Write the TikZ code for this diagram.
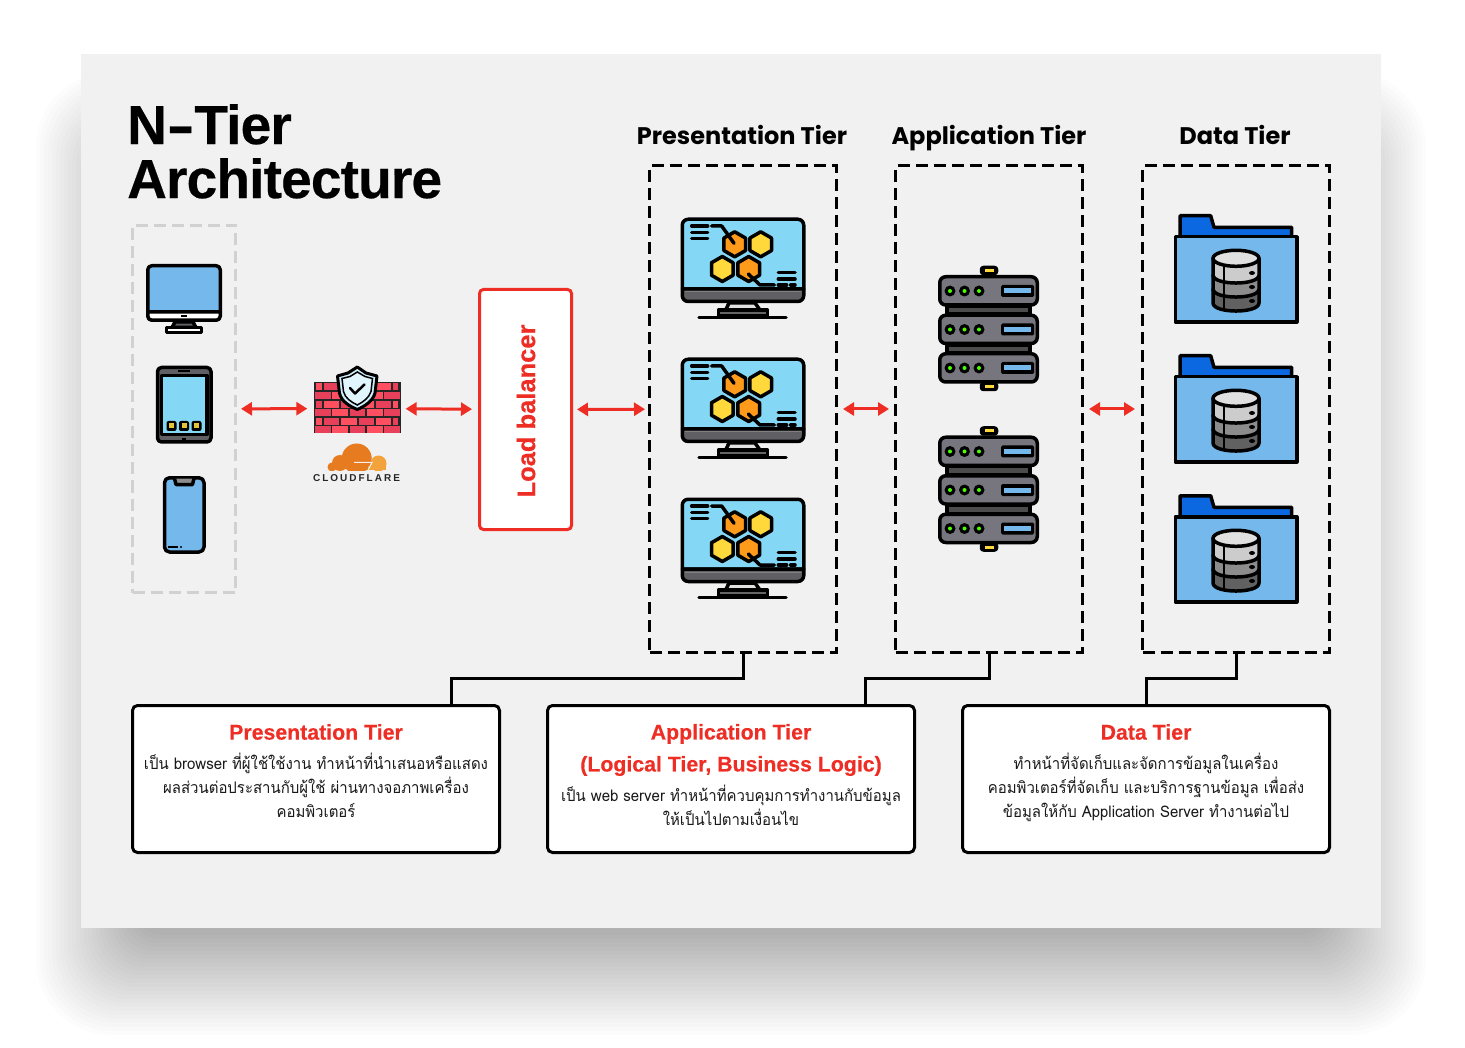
\documentclass[tikz,border=0pt]{standalone}
\usepackage{fontspec}
\setmainfont{Liberation Sans}
\newfontfamily\thaifont[Script=Thai,FakeStretch=0.935]{Loma}
\newfontfamily\headfont{Poppins}
\newfontfamily\logofont[LetterSpace=20]{Liberation Sans}
\newfontfamily\tightfont[LetterSpace=-1.5,FakeBold=0.4]{Liberation Sans Bold}
\newfontfamily\heavyfont[FakeBold=0.4]{Liberation Sans Bold}
\usetikzlibrary{arrows.meta, positioning}
\definecolor{panelgray}{HTML}{F1F1F1}
\definecolor{alertred}{HTML}{EE2D24}
\definecolor{deskblue}{HTML}{74B8EC}
\definecolor{skyblue}{HTML}{85D8F5}
\definecolor{folderblue}{HTML}{0B68E0}
\definecolor{chingray}{HTML}{5F5F64}
\definecolor{rackgray}{HTML}{77767E}
\definecolor{hex0}{HTML}{FF9A1A}
\definecolor{hex1}{HTML}{FFD93B}
\definecolor{brick0}{HTML}{FF4F60}
\definecolor{brick1}{HTML}{E8405A}
\definecolor{cloudorange}{HTML}{E67B1F}
\definecolor{cloudlight}{HTML}{F2A33C}
\tikzset{
  tierbox/.style={draw=black, line width=3pt, dash pattern=on 12pt off 6pt, minimum width=187pt, minimum height=486pt, inner sep=0pt},
  infobox/.style={draw=black, fill=white, line width=3pt, rounded corners=5pt, minimum width=367pt, minimum height=147pt, inner sep=0pt},
  infotitle/.style={text=alertred, font=\fontsize{21.3}{32}\selectfont\heavyfont, align=center, inner sep=0pt},
  infotext/.style={text=black!90, font=\fontsize{16}{24}\selectfont\thaifont, align=center, inner sep=0pt, anchor=north},
  tierhead/.style={font=\fontsize{24}{28}\selectfont\headfont\bfseries, inner sep=0pt, anchor=base},
  redarrow/.style={alertred, line width=3pt, {Triangle[length=11pt,width=13pt]}-{Triangle[length=11pt,width=13pt]}, shorten <=5pt, shorten >=5pt},
  joinline/.style={black, line width=3pt},
  iconline/.style={draw=black, line width=3.5pt, line join=round},
  % presentation tier monitor with hexagons
  hexmonitor/.pic={
    \draw[iconline, fill=skyblue] (1.25,71) [rounded corners=6pt] -- (1.25,1.25) -- (122.75,1.25) [sharp corners] -- (122.75,71) -- cycle;
    \draw[iconline, fill=chingray] (1.25,71) -- (122.75,71) [rounded corners=6pt] -- (122.75,83.5) -- (1.25,83.5) [sharp corners] -- cycle;
    \draw[gray, line width=1pt] (4,74) -- (120,74);
    \draw[iconline, fill=black!12] (48,85) -- (44.7,92) -- (79,92) -- (74,85) -- cycle;
    \draw[iconline, fill=black!60] (37.5,92) rectangle (86.5,98);
    \draw[iconline, line cap=round] (18,99.5) -- (105,99.5);
    \foreach \hx/\hy/\hc in {53.7/26.3/0, 79.7/26.3/1, 41.3/51/1, 67.7/51/0}
      \draw[iconline, fill=hex\hc] (\hx,\hy-12.5) -- (\hx+10.8,\hy-6.25) -- (\hx+10.8,\hy+6.25) -- (\hx,\hy+12.5) -- (\hx-10.8,\hy+6.25) -- (\hx-10.8,\hy-6.25) -- cycle;
    \draw[iconline, line cap=round] (30.7,8) -- (40.7,8) -- (53,25.3);
    \draw[iconline, line cap=round] (67.3,56) -- (79,67) -- (93.3,67);
    \foreach \ly in {8, 14.3, 20.7}
      \draw[iconline, line cap=round] (10.7,\ly) -- (26.7,\ly);
    \foreach \ly in {54.7, 61}
      \draw[iconline, line cap=round] (97.3,\ly) -- (114,\ly);
    \draw[iconline, line cap=round] (97.3,67) -- (105.7,67);
    \draw[iconline, line cap=round] (109.7,67) -- (114,67);
  },
  % application tier rack of three units
  serverrack/.pic={
    \foreach \ny in {1.5, 117.5}{
      \draw[iconline, fill=black, rounded corners=2pt] (43.5,\ny) rectangle (58.5,\ny+6);
      \fill[hex1] (46.5,\ny+1.5) rectangle (55.5,\ny+4.5);
    }
    \foreach \gy in {40, 79}
      \draw[iconline, fill=black!70] (9,\gy) rectangle (92,\gy+8);
    \foreach \uy in {9, 47.5, 86}{
      \draw[iconline, fill=rackgray, rounded corners=6pt] (1.75,\uy+1.75) rectangle (99.25,\uy+30);
      \foreach \lx in {12, 26.5, 41}{
        \fill[black] (\lx,\uy+16) circle (5.5);
        \fill[green!70!yellow] (\lx,\uy+16) circle (2);
      }
      \fill[black, rounded corners=1.5pt] (63,\uy+10) rectangle (96,\uy+22);
      \fill[deskblue] (66,\uy+13.5) rectangle (93,\uy+18.5);
    }
  },
  % data tier folder with database drum
  dbfolder/.pic={
    \draw[iconline, fill=folderblue] (6,24) -- (6,1.75) -- (36.7,1.75) -- (40,13.3) -- (117.7,13.3) -- (117.7,24) -- cycle;
    \draw[iconline, fill=deskblue] (1.25,22.75) rectangle (122.75,108);
    \foreach \ty/\by/\dc in {75/89/black!62, 61/75/black!45, 44.3/61/black!20}{
      \draw[iconline, fill=\dc] (39,\ty) -- (39,\by) .. controls (39,\by+10.7) and (85,\by+10.7) .. (85,\by) -- (85,\ty) -- cycle;
      \fill[black] (78,\by-2) ellipse (3 and 2);
    }
    \draw[black, line width=2pt] (50,52) -- (50,95);
    \draw[iconline, fill=black!12] (62,44.3) ellipse (23 and 8);
  }
}
\begin{document}
\begin{tikzpicture}[x=1pt, y=-1pt]
  \useasboundingbox (0,0) rectangle (1465,1048);
  \fill[white] (0,0) rectangle (1465,1048);
  % soft shadow of the sheet
  \foreach \i in {0,...,25}{
    \pgfmathsetmacro\rad{max(4,75-2*\i)}
    \fill[black, opacity=0.012, rounded corners=\rad pt] (36+4*\i,72+4*\i) rectangle (1426-4*\i,1035-4*\i);
  }
  \fill[panelgray] (81,54) rectangle (1381,928);

  \node[anchor=north west, inner sep=0pt, align=left, font=\fontsize{55}{54}\selectfont\tightfont] (maintitle) at (127,104) {N\scalebox{1.5}[1]{-}Tier\\Architecture};

  % tier boxes
  \node[tierbox] (presbox) at (743,409) {};
  \node[tierbox] (appbox) at (989,409) {};
  \node[tierbox] (databox) at (1236,409) {};
  \node[tierhead] (preshead) at (742,145) {Presentation Tier};
  \node[tierhead] (apphead) at (989,145) {Application Tier};
  \node[tierhead] (datahead) at (1235,145) {Data Tier};

  \node[draw=black!18, line width=3pt, dash pattern=on 12pt off 6pt, minimum width=103pt, minimum height=367pt, inner sep=0pt] (devbox) at (184,409) {};
  \node[draw=alertred, fill=white, line width=3pt, rounded corners=4pt, minimum width=92pt, minimum height=240pt, inner sep=0pt] (lbbox) at (525.5,409.5) {};
  \node[rotate=90, text=alertred, inner sep=0pt, font=\fontsize{25.5}{30}\selectfont\heavyfont] (lblabel) at (526,411) {Load balancer};

  % desktop
  \draw[iconline, fill=deskblue] (147.75,312) [rounded corners=4pt] -- (147.75,265.75) -- (220.25,265.75) [sharp corners] -- (220.25,312) -- cycle;
  \draw[iconline, fill=white] (147.75,312) -- (220.25,312) [rounded corners=4pt] -- (220.25,320.25) -- (147.75,320.25) [sharp corners] -- cycle;
  \draw[black, line width=2pt] (181,316.5) -- (187,316.5);
  \draw[iconline, fill=chingray] (175,322) -- (172,327.5) -- (196,327.5) -- (193,322) -- cycle;
  \draw[iconline, fill=white] (166.5,327.5) rectangle (201.5,332.5);
  % tablet
  \draw[iconline, fill=chingray, rounded corners=4pt] (157.5,367.5) rectangle (211,442);
  \draw[iconline, fill=skyblue] (161.5,375.5) rectangle (207,434.5);
  \draw[black, line width=2pt] (178,371.5) -- (190,371.5);
  \draw[black, line width=2pt] (182,439) -- (186,439);
  \foreach \sx in {171.5, 184, 196.5}{
    \fill[black, rounded corners=2pt] (\sx-5,421) rectangle (\sx+5,431);
    \fill[hex1!90!black] (\sx-2.5,423.5) rectangle (\sx+2.5,428.5);
  }
  % phone
  \draw[iconline, fill=deskblue, rounded corners=5pt] (164.5,477.75) rectangle (204,552);
  \draw[iconline, fill=black!45] (174.5,478.5) -- (176,484.5) -- (192.5,484.5) -- (194,478.5);
  \draw[black, line width=1.5pt] (168,547) -- (178,547);
  \fill[black] (181,547) circle (1.2);

  % firewall
  \fill[black!85] (313.5,382) rectangle (400.5,433.5);
  \foreach \r in {0,2,4}{
    \foreach \c in {0,...,5}{
      \pgfmathtruncatemacro\m{mod(\c+\r/2,2)}
      \pgfmathsetmacro\bl{\c==0 ? 316 : 324+(\c-1)*17.3}
      \pgfmathsetmacro\br{\c==0 ? 322 : (\c==5 ? 398 : \bl+15.3)}
      \fill[brick\m] (\bl,383.5+\r*8.6) rectangle (\br,390.5+\r*8.6);
    }
  }
  \foreach \r in {1,3,5}{
    \foreach \c in {0,...,4}{
      \pgfmathtruncatemacro\m{mod(\c+\r,2)}
      \fill[brick\m] (315+\c*17.3,383.5+\r*8.6) rectangle (330.8+\c*17.3,390.5+\r*8.6);
    }
  }
  \draw[iconline, line width=3pt, fill=skyblue!40!white] (357.3,367) -- (366,373) -- (377,376) -- (375,393) .. controls (373,401) and (365,406) .. (357.3,409.5) .. controls (349,406) and (341,401) .. (339.5,393) -- (337.5,376) -- (348,373) -- cycle;
  \draw[draw=black, line width=1.5pt, fill=skyblue!25!white] (357.3,372) -- (365,376.5) -- (372.5,378.5) -- (371,391.5) .. controls (369,398) and (363,402) .. (357.3,405) .. controls (351,402) and (345,398) .. (343.5,391.5) -- (342,378.5) -- (350,376.5) -- cycle;
  \draw[black, line width=2.5pt, line cap=round, line join=round] (350,388) -- (355,393.5) -- (364.5,384.5);
  \node[inner sep=0pt, minimum width=87pt, minimum height=51pt] (wall) at (357,408.5) {};

  % cloudflare logo
  \begin{scope}
    \clip (320,440) rectangle (395,470);
    \fill[cloudorange] (356.7,458.5) circle (15);
    \fill[cloudorange] (340,463) circle (8);
    \fill[cloudorange] (332,467) circle (4.5);
    \fill[cloudorange] (350,462) rectangle (368,470);
    \fill[cloudlight] (378.5,463.5) circle (8);
    \fill[cloudlight] (368,466) rectangle (386,470);
    \draw[panelgray, line width=1pt] (354,462.5) -- (372,462.5) -- (368,470);
  \end{scope}
  \node[inner sep=0pt, text=black!85, font=\fontsize{10}{10}\selectfont\logofont\bfseries] (cflabel) at (356.5,478) {CLOUDFLARE};

  % repeated icons
  \foreach \oy in {218, 358, 498}
    \pic at (681,\oy) {hexmonitor};
  \foreach \oy in {266, 426.5}
    \pic at (938,\oy) {serverrack};
  \foreach \oy in {214, 354, 494}
    \pic at (1174,\oy) {dbfolder};

  % arrows between the parts
  \draw[redarrow, shorten <=4pt, shorten >=6pt] (devbox) -- (wall);
  \draw[redarrow, shorten >=6pt] (wall) -- (lbbox);
  \draw[redarrow, shorten <=4pt, shorten >=3pt] (lbbox) -- (presbox);
  \draw[redarrow] (presbox) -- (appbox);
  \draw[redarrow, shorten >=6pt] (appbox) -- (databox);

  % text boxes
  \node[infobox] (presinfo) at (316,779) {};
  \node[infobox] (appinfo) at (731,779) {};
  \node[infobox] (datainfo) at (1146,779) {};
  \node[infotitle] (prestitle) at (316,732) {Presentation Tier};
  \node[infotitle] (apptitle) at (731,750) {Application Tier\\(Logical Tier, Business Logic)};
  \node[infotitle] (datatitle) at (1146,732) {Data Tier};
  \node[infotext] (prestext) at (316,753) {เป็น browser ที่ผู้ใช้ใช้งาน ทำหน้าที่นำเสนอหรือแสดง\\ผลส่วนต่อประสานกับผู้ใช้ ผ่านทางจอภาพเครื่อง\\คอมพิวเตอร์};
  \node[infotext] (apptext) at (731,785) {เป็น web server ทำหน้าที่ควบคุมการทำงานกับข้อมูล\\ให้เป็นไปตามเงื่อนไข};
  \node[infotext] (datatext) at (1146,753) {ทำหน้าที่จัดเก็บและจัดการข้อมูลในเครื่อง\\คอมพิวเตอร์ที่จัดเก็บ และบริการฐานข้อมูล เพื่อส่ง\\ข้อมูลให้กับ Application Server ทำงานต่อไป};

  % connectors from tier boxes to text boxes
  \coordinate (presjoin) at (451,705);
  \coordinate (appjoin) at (865,705);
  \coordinate (datajoin) at (1146,705);
  \draw[joinline] (presbox.south) -- ++(0,25) -| (presjoin);
  \draw[joinline] (appbox.south) -- ++(0,25) -| (appjoin);
  \draw[joinline] (databox.south) -- ++(0,25) -| (datajoin);
\end{tikzpicture}
\end{document}
